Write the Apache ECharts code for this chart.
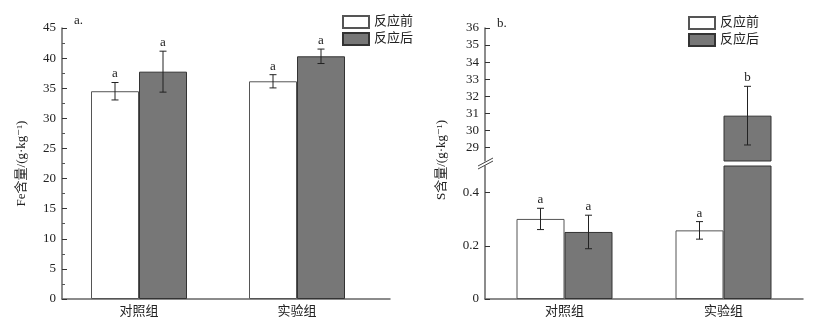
<!DOCTYPE html>
<html>
<head>
<meta charset="utf-8">
<script src="https://cdn.jsdelivr.net/npm/echarts@6/dist/echarts.min.js"></script>
<style>html,body{margin:0;padding:0;background:#fff}#c{width:817px;height:331px}</style>
</head>
<body>
<div id="c"></div>
<script>
// ---- data ----
const categories = ['对照组', '实验组'];
const seriesNames = ['反应前', '反应后'];
// Fe content (g/kg)
const feBefore = [34.5, 36.15];
const feBeforeErr = [1.45, 1.1];
const feAfter = [37.75, 40.3];
const feAfterErr = [3.4, 1.2];
const feBeforeLetters = ['a', 'a'];
const feAfterLetters = ['a', 'a'];
// S content (g/kg)
const sBefore = [0.301, 0.258];
const sBeforeErr = [0.04, 0.033];
const sAfter = [0.252, 30.86];
const sAfterErr = [0.063, 1.72];
const sBeforeLetters = ['a', 'a'];
const sAfterLetters = ['a', 'b'];
// tick labels
const feTicks = [0, 5, 10, 15, 20, 25, 30, 35, 40, 45];
const sUpperTicks = [29, 30, 31, 32, 33, 34, 35, 36];
const sLowerTicks = [0, 0.2, 0.4];

// ---- style ----
const FONT = "'Liberation Serif', 'DejaVu Serif', 'Noto Sans CJK SC', serif";
const TXT = '#222';
const AX = '#666';
const BAR_W = 48;
const whiteStyle = { color: '#ffffff', borderColor: '#555', borderWidth: 1 };
const darkStyle = { color: '#777777', borderColor: '#333', borderWidth: 1 };

function errSeries(name, xi, yi, vals, errs, letters, side, clip) {
  return {
    type: 'custom', name: name + '误差', xAxisIndex: xi, yAxisIndex: yi, clip: clip,
    silent: true, z: 5,
    data: vals.map((v, i) => [i, v, errs[i]]),
    renderItem: function (params, api) {
      const i = api.value(0), v = api.value(1), e = api.value(2);
      const off = side * BAR_W / 2;
      const top = api.coord([i, v + e]);
      const bot = api.coord([i, v - e]);
      const x = top[0] + off;
      const cap = 3.5;
      const ls = { stroke: '#222', lineWidth: 1 };
      return {
        type: 'group',
        children: [
          { type: 'line', shape: { x1: x, y1: top[1], x2: x, y2: bot[1] }, style: ls },
          { type: 'line', shape: { x1: x - cap, y1: top[1], x2: x + cap, y2: top[1] }, style: ls },
          { type: 'line', shape: { x1: x - cap, y1: bot[1], x2: x + cap, y2: bot[1] }, style: ls },
          { type: 'text', x: x, y: top[1] - 2,
            style: { text: letters[params.dataIndex], fill: TXT, font: '13px ' + FONT,
                     align: 'center', verticalAlign: 'bottom' } }
        ]
      };
    }
  };
}

const labelStyle = { fontFamily: FONT, fontSize: 13, color: TXT };

const option = {
  animation: false,
  backgroundColor: '#fff',
  textStyle: { fontFamily: FONT },
  legend: [
    { left: 337, top: 10, orient: 'vertical', itemWidth: 26, itemHeight: 12, itemGap: 3,
      data: seriesNames, textStyle: labelStyle, selectedMode: false, icon: 'rect' },
    { left: 683, top: 11, orient: 'vertical', itemWidth: 26, itemHeight: 12, itemGap: 3,
      data: seriesNames, textStyle: labelStyle, selectedMode: false, icon: 'rect' }
  ],
  grid: [
    { left: 62, top: 28, width: 328, height: 271 },
    { left: 60, top: 28, width: 316, height: 271 },
    { left: 485, top: 28, width: 318, height: 133 },
    { left: 485, top: 166, width: 318, height: 133 }
  ],
  xAxis: [
    { gridIndex: 0, type: 'value', min: 0, max: 1,
      axisLine: { show: true, lineStyle: { color: AX, width: 1.5 } },
      axisTick: { show: false }, axisLabel: { show: false }, splitLine: { show: false } },
    { gridIndex: 1, type: 'category', data: categories,
      axisLine: { show: false }, axisTick: { show: false },
      axisLabel: Object.assign({ margin: 6 }, labelStyle) },
    { gridIndex: 2, type: 'category', data: categories, show: false },
    { gridIndex: 3, type: 'category', data: categories,
      axisLine: { show: true, lineStyle: { color: AX, width: 1.5 } }, axisTick: { show: false },
      axisLabel: Object.assign({ margin: 6 }, labelStyle) }
  ],
  yAxis: [
    { gridIndex: 0, type: 'value', min: 0, max: 45, interval: 5,
      name: 'Fe含量/(g·kg⁻¹)', nameLocation: 'middle', nameGap: 34, nameRotate: 90,
      nameTextStyle: labelStyle,
      axisLine: { show: true, lineStyle: { color: AX, width: 1.5 } },
      axisTick: { show: true, inside: true, length: 5, lineStyle: { color: '#333' } },
      minorTick: { show: true, splitNumber: 2, length: 3, lineStyle: { color: '#555' } },
      axisLabel: Object.assign({ margin: 6, customValues: feTicks }, labelStyle),
      splitLine: { show: false } },
    { gridIndex: 1, type: 'value', min: 0, max: 45, show: false, splitLine: { show: false } },
    { gridIndex: 2, type: 'value', min: 28.2, max: 36,
      axisLine: { show: true, lineStyle: { color: AX, width: 1.5 } },
      axisTick: { show: true, inside: true, length: 5, lineStyle: { color: '#333' }, customValues: sUpperTicks },
      axisLabel: Object.assign({ margin: 6, customValues: sUpperTicks }, labelStyle),
      splitLine: { show: false } },
    { gridIndex: 3, type: 'value', min: 0, max: 0.5,
      axisLine: { show: true, lineStyle: { color: AX, width: 1.5 } },
      axisTick: { show: true, inside: true, length: 5, lineStyle: { color: '#333' }, customValues: sLowerTicks },
      axisLabel: Object.assign({ margin: 6, customValues: sLowerTicks }, labelStyle),
      splitLine: { show: false } }
  ],
  series: [
    { type: 'bar', name: seriesNames[0], xAxisIndex: 1, yAxisIndex: 1, data: feBefore,
      barWidth: BAR_W, barGap: '0%', itemStyle: whiteStyle },
    { type: 'bar', name: seriesNames[1], xAxisIndex: 1, yAxisIndex: 1, data: feAfter,
      barWidth: BAR_W, barGap: '0%', itemStyle: darkStyle },
    errSeries(seriesNames[0], 1, 1, feBefore, feBeforeErr, feBeforeLetters, -1, false),
    errSeries(seriesNames[1], 1, 1, feAfter, feAfterErr, feAfterLetters, 1, false),

    { type: 'bar', name: seriesNames[0], xAxisIndex: 2, yAxisIndex: 2, data: sBefore,
      barWidth: BAR_W, barGap: '0%', itemStyle: whiteStyle, clip: true },
    { type: 'bar', name: seriesNames[1], xAxisIndex: 2, yAxisIndex: 2, data: sAfter,
      barWidth: BAR_W, barGap: '0%', itemStyle: darkStyle, clip: true },
    { type: 'bar', name: seriesNames[0], xAxisIndex: 3, yAxisIndex: 3, data: sBefore,
      barWidth: BAR_W, barGap: '0%', itemStyle: whiteStyle, clip: true },
    { type: 'bar', name: seriesNames[1], xAxisIndex: 3, yAxisIndex: 3, data: sAfter,
      barWidth: BAR_W, barGap: '0%', itemStyle: darkStyle, clip: true },
    errSeries(seriesNames[0], 2, 2, sBefore, sBeforeErr, sBeforeLetters, -1, true),
    errSeries(seriesNames[1], 2, 2, sAfter, sAfterErr, sAfterLetters, 1, true),
    errSeries(seriesNames[0], 3, 3, sBefore, sBeforeErr, sBeforeLetters, -1, true),
    errSeries(seriesNames[1], 3, 3, sAfter, sAfterErr, sAfterLetters, 1, true)
  ],
  graphic: [
    { type: 'text', left: 74, top: 14, style: { text: 'a.', font: '13px ' + FONT, fill: TXT } },
    { type: 'text', left: 497, top: 17, style: { text: 'b.', font: '13px ' + FONT, fill: TXT } },
    { type: 'text', x: 442, y: 160, rotation: Math.PI / 2,
      style: { text: 'S含量/(g·kg⁻¹)', font: '13px ' + FONT, fill: TXT,
               align: 'center', verticalAlign: 'middle' } },
    { type: 'line', shape: { x1: 478, y1: 166, x2: 493, y2: 158 }, style: { stroke: '#444', lineWidth: 1 } },
    { type: 'line', shape: { x1: 478, y1: 169, x2: 493, y2: 161 }, style: { stroke: '#444', lineWidth: 1 } }
  ]
};

const chart = echarts.init(document.getElementById('c'), null, { renderer: 'canvas' });
chart.setOption(option);
</script>
</body>
</html>
